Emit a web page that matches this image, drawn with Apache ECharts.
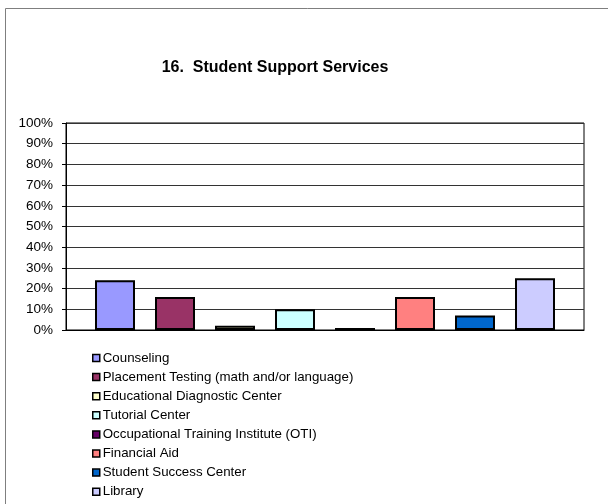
<!DOCTYPE html>
<html>
<head>
<meta charset="utf-8">
<script src="https://cdn.jsdelivr.net/npm/echarts@6/dist/echarts.min.js"></script>
<style>html,body{margin:0;padding:0;background:#fff;}#c{width:608px;height:504px;}</style>
</head>
<body>
<div id="c"></div>
<script>
var title = '16.  Student Support Services';
var categories = ['Counseling', 'Placement Testing (math and/or language)', 'Educational Diagnostic Center', 'Tutorial Center', 'Occupational Training Institute (OTI)', 'Financial Aid', 'Student Success Center', 'Library'];
var values = [24, 16, 2, 10, 1, 16, 7, 25];
var colors = ['#9999FF', '#993366', '#FFFFCC', '#CCFFFF', '#660066', '#FF8080', '#0066CC', '#CCCCFF'];
var yTicks = [0, 10, 20, 30, 40, 50, 60, 70, 80, 90, 100];

var chart = echarts.init(document.getElementById('c'));
var series = categories.map(function (name, i) {
  return {
    name: name,
    type: 'bar',
    data: [values[i]],
    barWidth: 40,
    barGap: '50%',
    itemStyle: { color: colors[i], borderColor: '#000', borderWidth: 2 },
    animation: false
  };
});
chart.setOption({
  animation: false,
  textStyle: { fontFamily: 'Liberation Sans, Arial, sans-serif' },
  graphic: [{
    type: 'rect', shape: { x: 5.5, y: 8.5, width: 700, height: 600 },
    style: { fill: 'none', stroke: '#7f7f7f', lineWidth: 1 }, silent: true
  }],
  title: {
    text: title, left: 270, textAlign: 'center', top: 55,
    textStyle: { fontSize: 16, fontWeight: 'bold', color: '#000', fontFamily: 'Liberation Sans, Arial, sans-serif' }
  },
  grid: { left: 66, right: 24, top: 123, bottom: 174, show: true, borderColor: '#000', borderWidth: 1, containLabel: false },
  xAxis: {
    type: 'category', data: [''],
    axisLine: { lineStyle: { color: '#000', width: 1 } },
    axisTick: { show: false }, axisLabel: { show: false }
  },
  yAxis: {
    type: 'value', min: 0, max: 100, interval: 10,
    axisLine: { show: true, lineStyle: { color: '#000' } },
    axisTick: { show: true, length: 4, lineStyle: { color: '#000' } },
    axisLabel: { formatter: function (v) { return yTicks.indexOf(v) >= 0 ? v + '%' : ''; }, color: '#000', fontSize: 13.5, margin: 13, fontFamily: 'Liberation Sans, Arial, sans-serif' },
    splitLine: { lineStyle: { color: '#333', width: 1 } }
  },
  legend: {
    orient: 'vertical', left: 87, top: 346, height: 160,
    itemWidth: 7, itemHeight: 7, itemGap: 5.1,
    icon: 'rect',
    itemStyle: { borderColor: '#000', borderWidth: 1.5 },
    textStyle: { fontSize: 13.3, color: '#000', lineHeight: 14, padding: [0, 0, 0, -2], fontFamily: 'Liberation Sans, Arial, sans-serif' },
    data: categories
  },
  series: series
});
</script>
</body>
</html>
